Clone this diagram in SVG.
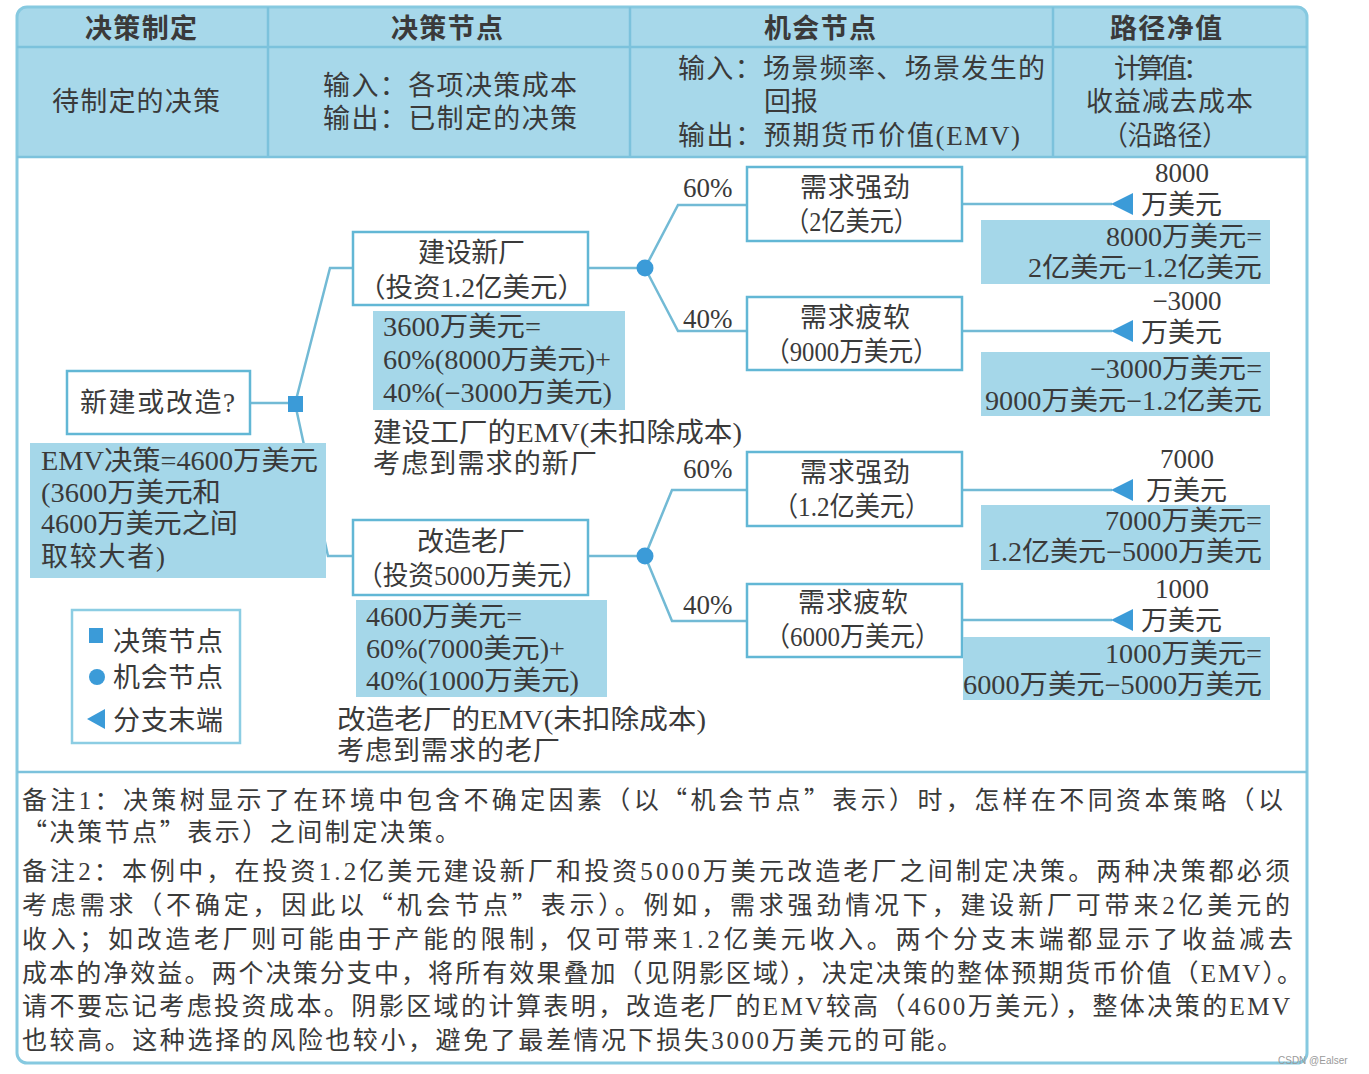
<svg xmlns="http://www.w3.org/2000/svg" width="1369" height="1074" viewBox="0 0 1369 1074">
<style>
.t{font-family:"Liberation Serif","Noto Sans CJK SC",serif;font-size:27px;fill:#3a3a3a}
.b{font-weight:700}
.m{text-anchor:middle}
.e{text-anchor:end}
.n{font-size:25px}
.q{font-family:"Noto Sans CJK SC",sans-serif}
.box{fill:#ffffff;stroke:#62b7d5;stroke-width:2.5}
.shade{fill:#a5d7e9}
.conn{stroke:#72bad5;stroke-width:2.5;fill:none}
.mark{fill:#3b9bd8}
.frame{fill:none;stroke:#86c9e0;stroke-width:3}
.div{stroke:#7cc2dc;stroke-width:2.5}
</style>
<defs>
<polygon id="tri" points="0,0 22,-11 22,11"/>
</defs>
<rect width="1369" height="1074" fill="#ffffff"/>
<g id="frame">
<path d="M17,157 V17 Q17,7 27,7 H1297 Q1307,7 1307,17 V157 Z" fill="#a7d8ea"/>
<rect x="17" y="7" width="1290" height="1056" rx="10" class="frame"/>
<line x1="17" y1="47" x2="1307" y2="47" class="div"/>
<line x1="17" y1="157" x2="1307" y2="157" class="div"/>
<line x1="268" y1="7" x2="268" y2="157" class="div"/>
<line x1="630" y1="7" x2="630" y2="157" class="div"/>
<line x1="1053" y1="7" x2="1053" y2="157" class="div"/>
<line x1="17" y1="772" x2="1307" y2="772" class="div"/>
</g>
<g id="header">
<text class="t b" x="85" y="38" textLength="112" lengthAdjust="spacing">决策制定</text>
<text class="t b" x="391" y="38" textLength="112" lengthAdjust="spacing">决策节点</text>
<text class="t b" x="764" y="38" textLength="112" lengthAdjust="spacing">机会节点</text>
<text class="t b" x="1110" y="38" textLength="112" lengthAdjust="spacing">路径净值</text>
<text class="t" x="52" y="111" textLength="168" lengthAdjust="spacing">待制定的决策</text>
<text class="t" x="323" y="95" textLength="254" lengthAdjust="spacing">输入：各项决策成本</text>
<text class="t" x="323" y="128" textLength="254" lengthAdjust="spacing">输出：已制定的决策</text>
<text class="t" x="678" y="78" textLength="367" lengthAdjust="spacing">输入：场景频率、场景发生的</text>
<text class="t" x="764" y="111" textLength="54" lengthAdjust="spacing">回报</text>
<text class="t" x="678" y="145" textLength="342" lengthAdjust="spacing">输出：预期货币价值(EMV)</text>
<text class="t" x="1114" y="78" textLength="96" lengthAdjust="spacing">计算值：</text>
<text class="t" x="1086" y="111" textLength="167" lengthAdjust="spacing">收益减去成本</text>
<text class="t" x="1103" y="145" textLength="124" lengthAdjust="spacingAndGlyphs">（沿路径）</text>
</g>
<g id="connectors">
<line x1="250" y1="403" x2="290" y2="403" class="conn"/>
<polyline points="296,400 330,268 353,268" class="conn"/>
<polyline points="296,408 328,556 353,556" class="conn"/>
<line x1="588" y1="268" x2="645" y2="268" class="conn"/>
<polyline points="645,268 678,205 747,205" class="conn"/>
<polyline points="645,268 678,331 747,331" class="conn"/>
<line x1="588" y1="556" x2="645" y2="556" class="conn"/>
<polyline points="645,556 672,490 747,490" class="conn"/>
<polyline points="645,556 672,621 747,621" class="conn"/>
<line x1="962" y1="204" x2="1112" y2="204" class="conn"/>
<line x1="962" y1="331" x2="1112" y2="331" class="conn"/>
<line x1="962" y1="490" x2="1112" y2="490" class="conn"/>
<line x1="962" y1="620" x2="1112" y2="620" class="conn"/>
</g>
<g id="decision-root">
<rect x="67" y="371" width="183" height="63" class="box"/>
<text class="t" x="80" y="412" textLength="155" lengthAdjust="spacing">新建或改造?</text>
<rect x="288" y="396" width="15" height="16" class="mark"/>
</g>
<g id="emv-decision">
<rect x="30" y="443" width="296" height="135" class="shade"/>
<text class="t" x="41" y="470" textLength="277" lengthAdjust="spacingAndGlyphs">EMV决策=4600万美元</text>
<text class="t" x="41" y="502" textLength="180" lengthAdjust="spacingAndGlyphs">(3600万美元和</text>
<text class="t" x="41" y="533" textLength="197" lengthAdjust="spacingAndGlyphs">4600万美元之间</text>
<text class="t" x="41" y="566" textLength="124" lengthAdjust="spacing">取较大者)</text>
</g>
<g id="build-new">
<rect x="353" y="232" width="235" height="73" class="box"/>
<text class="t" x="418" y="262" textLength="107" lengthAdjust="spacing">建设新厂</text>
<text class="t" x="358" y="297" textLength="227" lengthAdjust="spacingAndGlyphs">（投资1.2亿美元）</text>
<rect x="373" y="311" width="252" height="99" class="shade"/>
<text class="t" x="383" y="336" textLength="158" lengthAdjust="spacingAndGlyphs">3600万美元=</text>
<text class="t" x="383" y="369" textLength="228" lengthAdjust="spacingAndGlyphs">60%(8000万美元)+</text>
<text class="t" x="383" y="402" textLength="229" lengthAdjust="spacingAndGlyphs">40%(−3000万美元)</text>
<text class="t" x="373" y="442" textLength="369" lengthAdjust="spacingAndGlyphs">建设工厂的EMV(未扣除成本)</text>
<text class="t" x="373" y="473" textLength="224" lengthAdjust="spacing">考虑到需求的新厂</text>
</g>
<g id="chance-new">
<circle cx="645" cy="268" r="8.5" class="mark"/>
<text class="t" x="683" y="197">60%</text>
<text class="t" x="683" y="328">40%</text>
</g>
<g id="new-strong">
<rect x="747" y="167" width="215" height="74" class="box"/>
<text class="t" x="800" y="197" textLength="110" lengthAdjust="spacing">需求强劲</text>
<text class="t" x="785" y="231" textLength="133" lengthAdjust="spacingAndGlyphs">（2亿美元）</text>
</g>
<g id="new-weak">
<rect x="747" y="297" width="215" height="73" class="box"/>
<text class="t" x="800" y="327" textLength="110" lengthAdjust="spacing">需求疲软</text>
<text class="t" x="765" y="361" textLength="173" lengthAdjust="spacingAndGlyphs">（9000万美元）</text>
</g>
<g id="end-8000">
<use href="#tri" x="1111" y="204" class="mark"/>
<text class="t m" x="1182" y="182">8000</text>
<text class="t" x="1141" y="214" textLength="81" lengthAdjust="spacing">万美元</text>
<rect x="981" y="220" width="289" height="64" class="shade"/>
<text class="t" x="1106" y="246" textLength="156" lengthAdjust="spacingAndGlyphs">8000万美元=</text>
<text class="t" x="1028" y="277" textLength="234" lengthAdjust="spacingAndGlyphs">2亿美元−1.2亿美元</text>
</g>
<g id="end-m3000">
<use href="#tri" x="1111" y="331" class="mark"/>
<text class="t m" x="1187" y="310">−3000</text>
<text class="t" x="1141" y="342" textLength="81" lengthAdjust="spacing">万美元</text>
<rect x="981" y="352" width="289" height="64" class="shade"/>
<text class="t" x="1090" y="378" textLength="172" lengthAdjust="spacingAndGlyphs">−3000万美元=</text>
<text class="t" x="985" y="410" textLength="277" lengthAdjust="spacingAndGlyphs">9000万美元−1.2亿美元</text>
</g>
<g id="upgrade-old">
<rect x="353" y="520" width="235" height="75" class="box"/>
<text class="t" x="417" y="551" textLength="108" lengthAdjust="spacing">改造老厂</text>
<text class="t" x="357" y="585" textLength="231" lengthAdjust="spacingAndGlyphs">（投资5000万美元）</text>
<rect x="356" y="600" width="251" height="97" class="shade"/>
<text class="t" x="366" y="626" textLength="156" lengthAdjust="spacingAndGlyphs">4600万美元=</text>
<text class="t" x="366" y="658" textLength="199" lengthAdjust="spacingAndGlyphs">60%(7000美元)+</text>
<text class="t" x="366" y="690" textLength="213" lengthAdjust="spacingAndGlyphs">40%(1000万美元)</text>
<text class="t" x="337" y="729" textLength="369" lengthAdjust="spacingAndGlyphs">改造老厂的EMV(未扣除成本)</text>
<text class="t" x="337" y="760" textLength="223" lengthAdjust="spacing">考虑到需求的老厂</text>
</g>
<g id="chance-old">
<circle cx="645" cy="556" r="8.5" class="mark"/>
<text class="t" x="683" y="478">60%</text>
<text class="t" x="683" y="614">40%</text>
</g>
<g id="old-strong">
<rect x="747" y="452" width="215" height="74" class="box"/>
<text class="t" x="800" y="482" textLength="110" lengthAdjust="spacing">需求强劲</text>
<text class="t" x="773" y="516" textLength="157" lengthAdjust="spacingAndGlyphs">（1.2亿美元）</text>
</g>
<g id="old-weak">
<rect x="747" y="584" width="215" height="73" class="box"/>
<text class="t" x="798" y="612" textLength="110" lengthAdjust="spacing">需求疲软</text>
<text class="t" x="765" y="646" textLength="175" lengthAdjust="spacingAndGlyphs">（6000万美元）</text>
</g>
<g id="end-7000">
<use href="#tri" x="1111" y="490" class="mark"/>
<text class="t m" x="1187" y="468">7000</text>
<text class="t" x="1146" y="500" textLength="81" lengthAdjust="spacing">万美元</text>
<rect x="981" y="505" width="289" height="65" class="shade"/>
<text class="t" x="1105" y="530" textLength="157" lengthAdjust="spacingAndGlyphs">7000万美元=</text>
<text class="t" x="987" y="561" textLength="275" lengthAdjust="spacingAndGlyphs">1.2亿美元−5000万美元</text>
</g>
<g id="end-1000">
<use href="#tri" x="1111" y="620" class="mark"/>
<text class="t m" x="1182" y="598">1000</text>
<text class="t" x="1141" y="630" textLength="81" lengthAdjust="spacing">万美元</text>
<rect x="963" y="637" width="307" height="63" class="shade"/>
<text class="t" x="1105" y="663" textLength="157" lengthAdjust="spacingAndGlyphs">1000万美元=</text>
<text class="t" x="963" y="694" textLength="299" lengthAdjust="spacingAndGlyphs">6000万美元−5000万美元</text>
</g>
<g id="legend">
<rect x="72" y="610" width="168" height="133" fill="#ffffff" stroke="#8ccde3" stroke-width="2.5"/>
<rect x="89" y="628" width="14" height="15" class="mark"/>
<text class="t" x="113" y="651" textLength="110" lengthAdjust="spacing">决策节点</text>
<circle cx="97" cy="677" r="8" class="mark"/>
<text class="t" x="113" y="687" textLength="110" lengthAdjust="spacing">机会节点</text>
<polygon points="87,719 105,709 105,729" class="mark"/>
<text class="t" x="113" y="730" textLength="110" lengthAdjust="spacing">分支末端</text>
</g>
<g id="notes">
<text class="t n" x="22" y="809" textLength="1261" lengthAdjust="spacing">备注1：决策树显示了在环境中包含不确定因素（以<tspan class="q">“</tspan>机会节点<tspan class="q">”</tspan>表示）时，怎样在不同资本策略（以</text>
<text class="t n" x="22" y="841" textLength="438" lengthAdjust="spacing"><tspan class="q">“</tspan>决策节点<tspan class="q">”</tspan>表示）之间制定决策。</text>
<text class="t n" x="22" y="880" textLength="1268" lengthAdjust="spacing">备注2：本例中，在投资1.2亿美元建设新厂和投资5000万美元改造老厂之间制定决策。两种决策都必须</text>
<text class="t n" x="22" y="914" textLength="1268" lengthAdjust="spacing">考虑需求（不确定，因此以<tspan class="q">“</tspan>机会节点<tspan class="q">”</tspan>表示）。例如，需求强劲情况下，建设新厂可带来2亿美元的</text>
<text class="t n" x="22" y="948" textLength="1271" lengthAdjust="spacing">收入；如改造老厂则可能由于产能的限制，仅可带来1.2亿美元收入。两个分支末端都显示了收益减去</text>
<text class="t n" x="22" y="982" textLength="1280" lengthAdjust="spacing">成本的净效益。两个决策分支中，将所有效果叠加（见阴影区域），决定决策的整体预期货币价值（EMV）。</text>
<text class="t n" x="22" y="1015" textLength="1268" lengthAdjust="spacing">请不要忘记考虑投资成本。阴影区域的计算表明，改造老厂的EMV较高（4600万美元），整体决策的EMV</text>
<text class="t n" x="22" y="1049" textLength="940" lengthAdjust="spacing">也较高。这种选择的风险也较小，避免了最差情况下损失3000万美元的可能。</text>
</g>
<text x="1278" y="1064" font-family="Liberation Sans, sans-serif" font-size="10" fill="#9a9a9a">CSDN @Ealser</text>
</svg>
